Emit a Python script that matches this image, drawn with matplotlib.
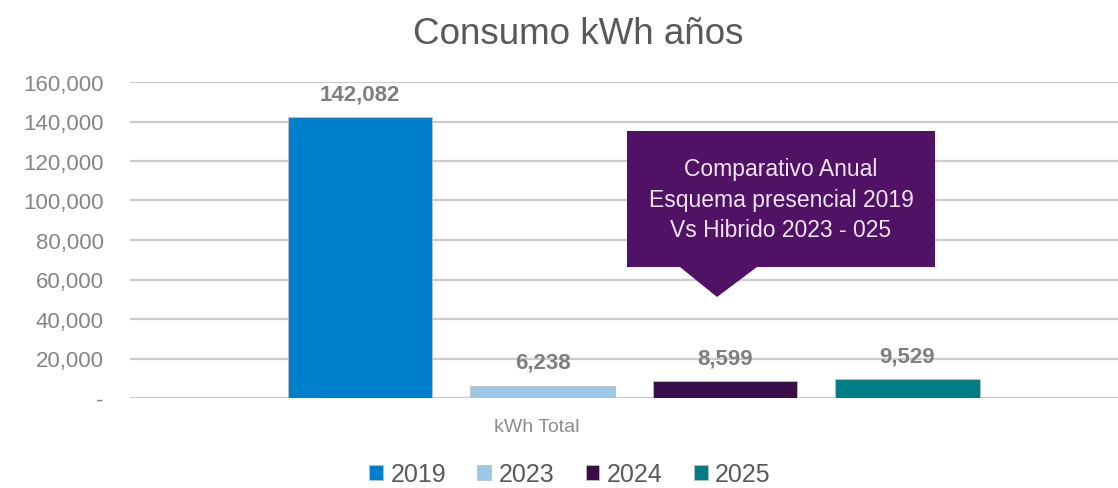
import matplotlib
matplotlib.use("Agg")
import matplotlib.pyplot as plt
import numpy as np
from matplotlib.patches import Polygon

plt.rcParams['font.family'] = ['Liberation Sans', 'DejaVu Sans']

years = ["2019", "2023", "2024", "2025"]
kwh = [142082, 6238, 8599, 9529]
colors = ["#0080CC", "#9BC7E8", "#380D48", "#007D87"]
yticks = [0, 20000, 40000, 60000, 80000, 100000, 120000, 140000, 160000]
callout_text = "Comparativo Anual\nEsquema presencial 2019\nVs Hibrido 2023 - 025"

W, H = 1118, 489
fig = plt.figure(figsize=(W / 100, H / 100), dpi=100)
ax = fig.add_axes([130 / W, 1 - 399 / H, (1118 - 130) / W, (399 - 83) / H])

x = np.arange(len(years))
for i, (yr, v, c) in enumerate(zip(years, kwh, colors)):
    ax.bar(x[i], v, width=0.79, color=c, edgecolor="#c0c0c0", linewidth=0.6,
           label=yr, zorder=3)
    ax.text(x[i], v + 6500, f"{v:,}", ha="center", va="bottom",
            fontsize=16, fontweight="bold", color="#7f7f7f", zorder=4)

ax.set_xlim(-1.26, 4.153)
ax.set_ylim(0, 160000)
ax.set_yticks(yticks)
ax.set_yticklabels(["-" if t == 0 else f"{t:,}" for t in yticks])
ax.tick_params(axis="y", length=0, pad=19, labelsize=16, labelcolor="#858585")
ax.set_xticks([])
ax.grid(axis="y", color="#cccccc", linewidth=1.6, zorder=0)
for s in ax.spines.values():
    s.set_visible(False)

fig.text(578 / W, 1 - 34 / H, "Consumo kWh años", ha="center", va="center",
         fontsize=26.5, color="#595959")
fig.text(537 / W, 1 - 428 / H, "kWh Total", ha="center", va="center",
         fontsize=14, color="#8c8c8c")

# callout box
pts = [(627, 132), (935, 132), (935, 268), (757, 268), (717, 298),
       (680, 268), (627, 268)]
callout = Polygon([(px / W, 1 - py / H) for px, py in pts], closed=True,
                  transform=fig.transFigure, facecolor="#501265",
                  edgecolor="none", zorder=5)
fig.patches.append(callout)
fig.text(781 / W, 1 - 200 / H, callout_text, ha="center", va="center",
         fontsize=16.5, color="#F2E4F2", linespacing=1.4, zorder=6)

fig.legend(loc="center", bbox_to_anchor=(570 / W, 1 - 475 / H), ncol=4,
           frameon=False, fontsize=18, labelcolor="#595959",
           handlelength=0.55, handleheight=0.55, handletextpad=0.3,
           columnspacing=1.25, borderpad=0.1)

fig.savefig("out.png", dpi=100)
